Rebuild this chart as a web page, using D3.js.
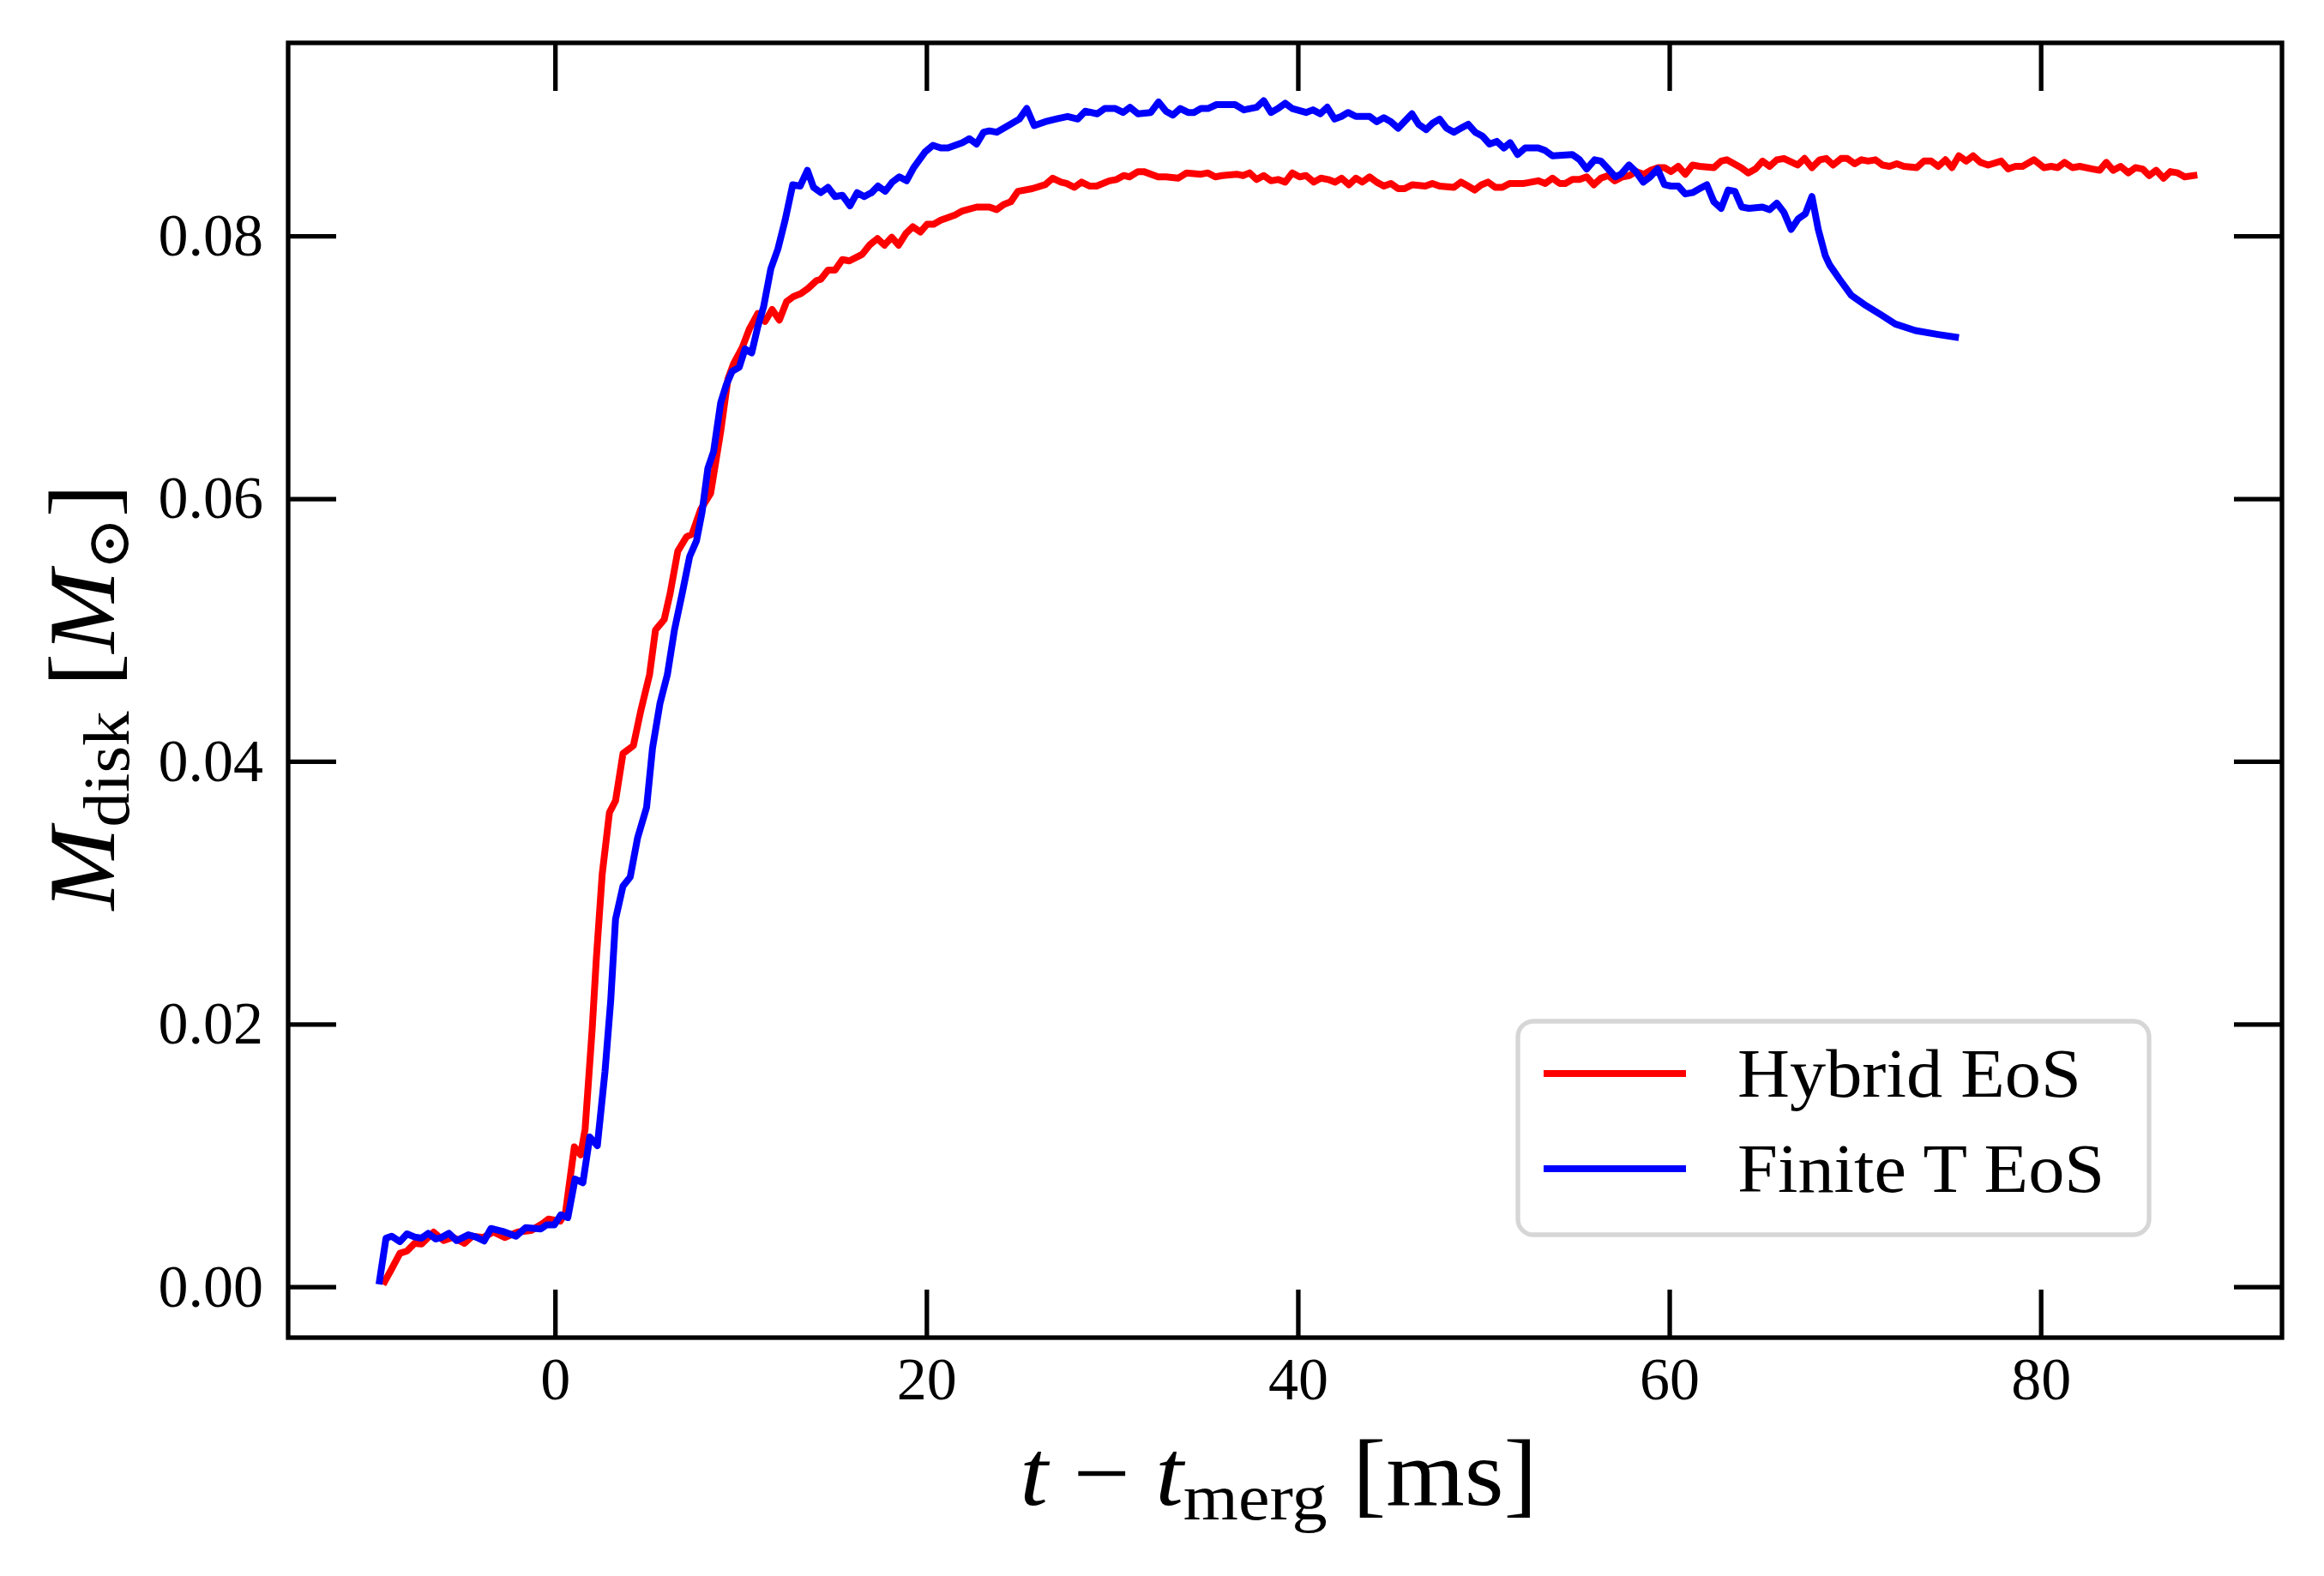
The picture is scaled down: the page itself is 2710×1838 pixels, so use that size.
<!DOCTYPE html>
<html>
<head>
<meta charset="utf-8">
<script src="https://cdn.jsdelivr.net/npm/d3@7"></script>
<style>
  body { margin: 0; background: #fff; }
  text { font-family: "Liberation Serif", "DejaVu Serif", serif; fill: #000; }
</style>
</head>
<body>
<svg width="2710" height="1838"></svg>
<script>
// t - t_merg [ms], M_disk [M_sun]
var hybrid = [[-9.17,0.0004],[-8.8,0.00135],[-8.35,0.00255],[-7.97,0.00272],[-7.56,0.00331],[-7.19,0.00326],[-6.54,0.00416],[-6.0,0.00352],[-5.49,0.00377],[-4.88,0.00331],[-4.46,0.00385],[-3.86,0.00375],[-3.33,0.00418],[-2.71,0.00375],[-1.99,0.00418],[-1.28,0.00429],[-0.65,0.00483],[-0.35,0.00516],[0.28,0.005],[0.57,0.0057],[1.04,0.01066],[1.38,0.01005],[1.62,0.012],[2.0,0.0196],[2.23,0.0251],[2.54,0.0314],[2.93,0.0361],[3.26,0.037],[3.66,0.0406],[4.22,0.0412],[4.61,0.0438],[5.09,0.0466],[5.41,0.05],[5.88,0.0508],[6.2,0.0528],[6.61,0.056],[7.08,0.0571],[7.38,0.0573],[7.85,0.0592],[8.38,0.0604],[8.92,0.0651],[9.31,0.0691],[9.62,0.0703],[10.08,0.0715],[10.46,0.0729],[10.92,0.0741],[11.31,0.0735],[11.69,0.0744],[12.08,0.0736],[12.47,0.075],[12.85,0.0754],[13.23,0.0756],[13.62,0.076],[14.08,0.0766],[14.31,0.0767],[14.7,0.0774],[15.08,0.0774],[15.47,0.0782],[15.85,0.0781],[16.54,0.0786],[16.93,0.0793],[17.36,0.0798],[17.74,0.0793],[18.13,0.0799],[18.5,0.0793],[18.9,0.0802],[19.27,0.0807],[19.67,0.0803],[20.04,0.0809],[20.39,0.0809],[20.77,0.0812],[21.16,0.0814],[21.54,0.0816],[21.93,0.0819],[22.7,0.0822],[23.39,0.0822],[23.78,0.082],[24.16,0.0824],[24.54,0.0826],[24.93,0.0834],[25.7,0.0836],[26.39,0.0839],[26.8,0.0844],[27.24,0.0841],[27.54,0.084],[27.96,0.0837],[28.35,0.0841],[28.78,0.0838],[29.16,0.0838],[29.85,0.0842],[30.24,0.0843],[30.62,0.0846],[30.93,0.0845],[31.39,0.0849],[31.7,0.0849],[32.47,0.0845],[32.9,0.0845],[33.55,0.0844],[34.01,0.0848],[34.78,0.0847],[35.16,0.0848],[35.55,0.0845],[35.93,0.0846],[36.7,0.0847],[37.05,0.0846],[37.4,0.0848],[37.78,0.0843],[38.16,0.0846],[38.55,0.0842],[38.93,0.0843],[39.32,0.0841],[39.7,0.0848],[40.09,0.0845],[40.44,0.0846],[40.86,0.0841],[41.24,0.0844],[41.63,0.0843],[42.01,0.0841],[42.35,0.0844],[42.75,0.0839],[43.12,0.0844],[43.47,0.0841],[43.86,0.0845],[44.24,0.0841],[44.63,0.0838],[45.01,0.084],[45.4,0.0836],[45.73,0.0836],[46.17,0.0839],[46.86,0.0838],[47.24,0.084],[47.63,0.0838],[48.4,0.0837],[48.78,0.0841],[49.17,0.0838],[49.52,0.0835],[49.89,0.0839],[50.24,0.0841],[50.63,0.0837],[51.01,0.0837],[51.4,0.084],[52.17,0.084],[52.94,0.0842],[53.32,0.084],[53.71,0.0844],[54.09,0.084],[54.4,0.084],[54.78,0.0843],[55.17,0.0843],[55.55,0.0845],[55.94,0.0839],[56.32,0.0844],[56.71,0.0846],[57.06,0.0842],[57.48,0.0845],[57.86,0.0846],[58.2,0.0849],[58.63,0.0847],[59.01,0.085],[59.4,0.0852],[59.74,0.0852],[60.09,0.0849],[60.48,0.0853],[60.86,0.0847],[61.25,0.0854],[61.63,0.0853],[62.4,0.0852],[62.79,0.0857],[63.09,0.0858],[63.86,0.0852],[64.25,0.0848],[64.64,0.0851],[65.02,0.0857],[65.4,0.0853],[65.79,0.0858],[66.17,0.0859],[66.91,0.0854],[67.28,0.0859],[67.68,0.0852],[68.1,0.0858],[68.45,0.0859],[68.82,0.0854],[69.25,0.0859],[69.58,0.0859],[69.98,0.0855],[70.35,0.0858],[70.71,0.0857],[71.1,0.0858],[71.48,0.0854],[71.86,0.0853],[72.25,0.0855],[72.63,0.0853],[73.32,0.0852],[73.71,0.0857],[74.1,0.0857],[74.48,0.0853],[74.87,0.0858],[75.22,0.0852],[75.59,0.0861],[75.99,0.0857],[76.36,0.0861],[76.76,0.0856],[77.17,0.0854],[77.87,0.0857],[78.25,0.0851],[78.64,0.0853],[79.02,0.0853],[79.64,0.0858],[80.18,0.0852],[80.56,0.0853],[80.91,0.0852],[81.28,0.0856],[81.71,0.0852],[82.1,0.0853],[82.79,0.0851],[83.17,0.085],[83.53,0.0856],[83.9,0.085],[84.3,0.0853],[84.72,0.0848],[85.1,0.0852],[85.49,0.0851],[85.84,0.0846],[86.21,0.085],[86.61,0.0844],[86.98,0.0849],[87.38,0.0848],[87.75,0.0845],[88.25,0.0846]];

var finiteT = [[-9.45,0.00044],[-9.1,0.0037],[-8.8,0.00385],[-8.35,0.00344],[-7.97,0.00403],[-7.56,0.00379],[-7.19,0.0037],[-6.83,0.00407],[-6.42,0.00364],[-6.12,0.00375],[-5.71,0.00407],[-5.3,0.00352],[-4.67,0.00396],[-4.26,0.00379],[-3.82,0.00349],[-3.45,0.00444],[-2.82,0.00422],[-2.1,0.00385],[-1.58,0.0045],[-0.77,0.0044],[-0.45,0.00472],[-0.03,0.00472],[0.31,0.00548],[0.69,0.00527],[1.08,0.0082],[1.5,0.00792],[1.87,0.0114],[2.28,0.01075],[2.69,0.01636],[3.0,0.0218],[3.26,0.028],[3.66,0.0305],[4.05,0.0312],[4.45,0.0342],[4.93,0.0365],[5.25,0.041],[5.65,0.0444],[6.05,0.0466],[6.43,0.05],[6.85,0.0528],[7.25,0.0556],[7.62,0.0568],[7.92,0.059],[8.23,0.0623],[8.54,0.0636],[8.92,0.0673],[9.23,0.0687],[9.54,0.0697],[9.92,0.07],[10.23,0.0714],[10.59,0.0711],[10.92,0.0731],[11.23,0.0746],[11.62,0.0775],[12.0,0.079],[12.39,0.0812],[12.8,0.0839],[13.2,0.0838],[13.59,0.085],[13.92,0.0837],[14.31,0.0833],[14.7,0.0837],[15.08,0.083],[15.47,0.0831],[15.88,0.0823],[16.27,0.0833],[16.65,0.083],[17.05,0.0833],[17.39,0.0838],[17.78,0.0834],[18.16,0.0841],[18.54,0.0845],[18.93,0.0842],[19.31,0.0852],[19.93,0.0864],[20.35,0.0869],[20.77,0.0867],[21.16,0.0867],[21.54,0.0869],[21.93,0.0871],[22.31,0.0874],[22.7,0.087],[23.08,0.0879],[23.39,0.088],[23.78,0.0879],[24.4,0.0884],[25.0,0.0889],[25.4,0.0897],[25.8,0.0884],[26.4,0.0887],[26.96,0.0889],[27.6,0.0891],[28.15,0.0889],[28.55,0.0895],[29.2,0.0893],[29.6,0.0897],[30.17,0.0897],[30.59,0.0894],[30.96,0.0898],[31.39,0.0893],[32.08,0.0894],[32.5,0.0902],[32.9,0.0895],[33.27,0.0892],[33.67,0.0897],[34.09,0.0894],[34.4,0.0894],[34.78,0.0897],[35.16,0.0897],[35.62,0.09],[36.62,0.09],[37.09,0.0896],[37.78,0.0898],[38.16,0.0903],[38.55,0.0894],[38.93,0.0897],[39.32,0.0901],[39.7,0.0897],[40.44,0.0894],[40.81,0.0896],[41.21,0.0893],[41.58,0.0898],[41.98,0.0889],[42.35,0.0891],[42.7,0.0894],[43.12,0.0891],[43.86,0.0891],[44.24,0.0887],[44.63,0.089],[45.01,0.0887],[45.4,0.0882],[45.73,0.0887],[46.14,0.0893],[46.5,0.0885],[46.91,0.0881],[47.27,0.0886],[47.63,0.0889],[48.01,0.0882],[48.4,0.0879],[48.78,0.0882],[49.17,0.0885],[49.55,0.0879],[49.94,0.0876],[50.32,0.087],[50.71,0.0872],[51.09,0.0867],[51.43,0.0871],[51.83,0.0862],[52.24,0.0867],[52.94,0.0867],[53.32,0.0865],[53.71,0.0861],[54.78,0.0862],[55.17,0.0858],[55.55,0.0851],[55.98,0.0858],[56.32,0.0857],[56.71,0.0851],[57.09,0.0845],[57.4,0.0847],[57.83,0.0854],[58.2,0.0849],[58.6,0.0841],[58.97,0.0845],[59.37,0.0851],[59.74,0.0839],[60.09,0.0838],[60.48,0.0838],[60.86,0.0832],[61.25,0.0833],[61.63,0.0836],[62.02,0.0839],[62.4,0.0826],[62.79,0.0821],[63.17,0.0835],[63.53,0.0834],[63.9,0.0822],[64.29,0.0821],[65.02,0.0822],[65.4,0.082],[65.79,0.0825],[66.17,0.0818],[66.56,0.0805],[66.94,0.0813],[67.33,0.0817],[67.68,0.083],[68.02,0.0805],[68.4,0.0785],[68.63,0.0778],[69.17,0.0767],[69.79,0.0755],[70.48,0.0748],[71.4,0.074],[72.17,0.0733],[73.25,0.0728],[74.48,0.0725],[75.41,0.0723]];

var xTicks = [0, 20, 40, 60, 80];
var yTicks = [0, 0.02, 0.04, 0.06, 0.08];
var seriesNames = ["Hybrid EoS", "Finite T EoS"];
var seriesColors = ["#ff0000", "#0000ff"];

var svg = d3.select("svg"),
    plotL = 336, plotR = 2661, plotT = 50, plotB = 1560,
    tickLen = 56;

var x = d3.scaleLinear().domain([-14.37, 92.99]).range([plotL, plotR]);
var y = d3.scaleLinear().domain([-0.00387, 0.0947]).range([plotB, plotT]);

var line = d3.line()
    .x(function(d) { return x(d[0]); })
    .y(function(d) { return y(d[1]); });

// data lines, red under blue
[hybrid, finiteT].forEach(function(s, i) {
  svg.append("path")
      .datum(s)
      .attr("d", line)
      .attr("fill", "none")
      .attr("stroke", seriesColors[i])
      .attr("stroke-width", 8)
      .attr("stroke-linejoin", "round")
      .attr("stroke-linecap", "square");
});

// inward ticks on all four sides
var fmtY = d3.format(".2f");
var axes = svg.append("g");

axes.append("g")
    .attr("transform", "translate(0," + plotB + ")")
    .call(d3.axisBottom(x).tickValues(xTicks).tickSizeInner(-tickLen).tickSizeOuter(0).tickPadding(22));
axes.append("g")
    .attr("transform", "translate(0," + plotT + ")")
    .call(d3.axisTop(x).tickValues(xTicks).tickSizeInner(-tickLen).tickSizeOuter(0).tickFormat(""));
axes.append("g")
    .attr("transform", "translate(" + plotL + ",0)")
    .call(d3.axisLeft(y).tickValues(yTicks).tickSizeInner(-tickLen).tickSizeOuter(0).tickPadding(29).tickFormat(fmtY));
axes.append("g")
    .attr("transform", "translate(" + plotR + ",0)")
    .call(d3.axisRight(y).tickValues(yTicks).tickSizeInner(-tickLen).tickSizeOuter(0).tickFormat(""));

axes.selectAll(".domain").remove();
axes.selectAll(".tick line").attr("stroke", "#000").attr("stroke-width", 5.3);
axes.selectAll(".tick text")
    .attr("font-family", "Liberation Serif, DejaVu Serif, serif")
    .attr("font-size", 70)
    .attr("fill", "#000");

// frame
svg.append("rect")
    .attr("x", plotL).attr("y", plotT)
    .attr("width", plotR - plotL).attr("height", plotB - plotT)
    .attr("fill", "none").attr("stroke", "#000").attr("stroke-width", 5.3);

// x label: t - t_merg [ms]  (stretched a little to match the wider TeX glyphs)
var xl = svg.append("text")
    .attr("transform", "translate(1491,1755) scale(1.07,1)")
    .attr("text-anchor", "middle")
    .attr("font-size", 110);
xl.append("tspan").attr("font-style", "italic").text("t");
xl.append("tspan").text(" \u2212 ");
xl.append("tspan").attr("font-style", "italic").text("t");
xl.append("tspan").attr("font-size", 77).attr("dy", 17).text("merg");
xl.append("tspan").attr("dy", -17).text(" [ms]");

// y label: M_disk [M_sun]
var yl = svg.append("text")
    .attr("transform", "translate(133,813) rotate(-90) scale(1.055,1)")
    .attr("text-anchor", "middle")
    .attr("font-size", 110);
yl.append("tspan").attr("font-style", "italic").text("M");
yl.append("tspan").attr("font-size", 77).attr("dy", 17).text("disk");
yl.append("tspan").attr("dy", -17).text(" [");
yl.append("tspan").attr("font-style", "italic").text("M");
yl.append("tspan").attr("font-size", 70).attr("dy", 17).text("\u2299");
yl.append("tspan").attr("dy", -17).text("]");

// legend
var legend = svg.append("g");
legend.append("rect")
    .attr("x", 1770).attr("y", 1191)
    .attr("width", 736).attr("height", 249)
    .attr("rx", 18)
    .attr("fill", "#fff").attr("fill-opacity", 0.8)
    .attr("stroke", "#d6d6d6").attr("stroke-width", 5.3);

var rowY = [1252, 1363];
seriesNames.forEach(function(name, i) {
  legend.append("line")
      .attr("x1", 1800).attr("x2", 1966)
      .attr("y1", rowY[i]).attr("y2", rowY[i])
      .attr("stroke", seriesColors[i]).attr("stroke-width", 8);
  legend.append("text")
      .attr("transform", "translate(2026," + (rowY[i] + 27) + ") scale(1.055,1)")
      .attr("font-size", 80)
      .text(name);
});
</script>
</body>
</html>
